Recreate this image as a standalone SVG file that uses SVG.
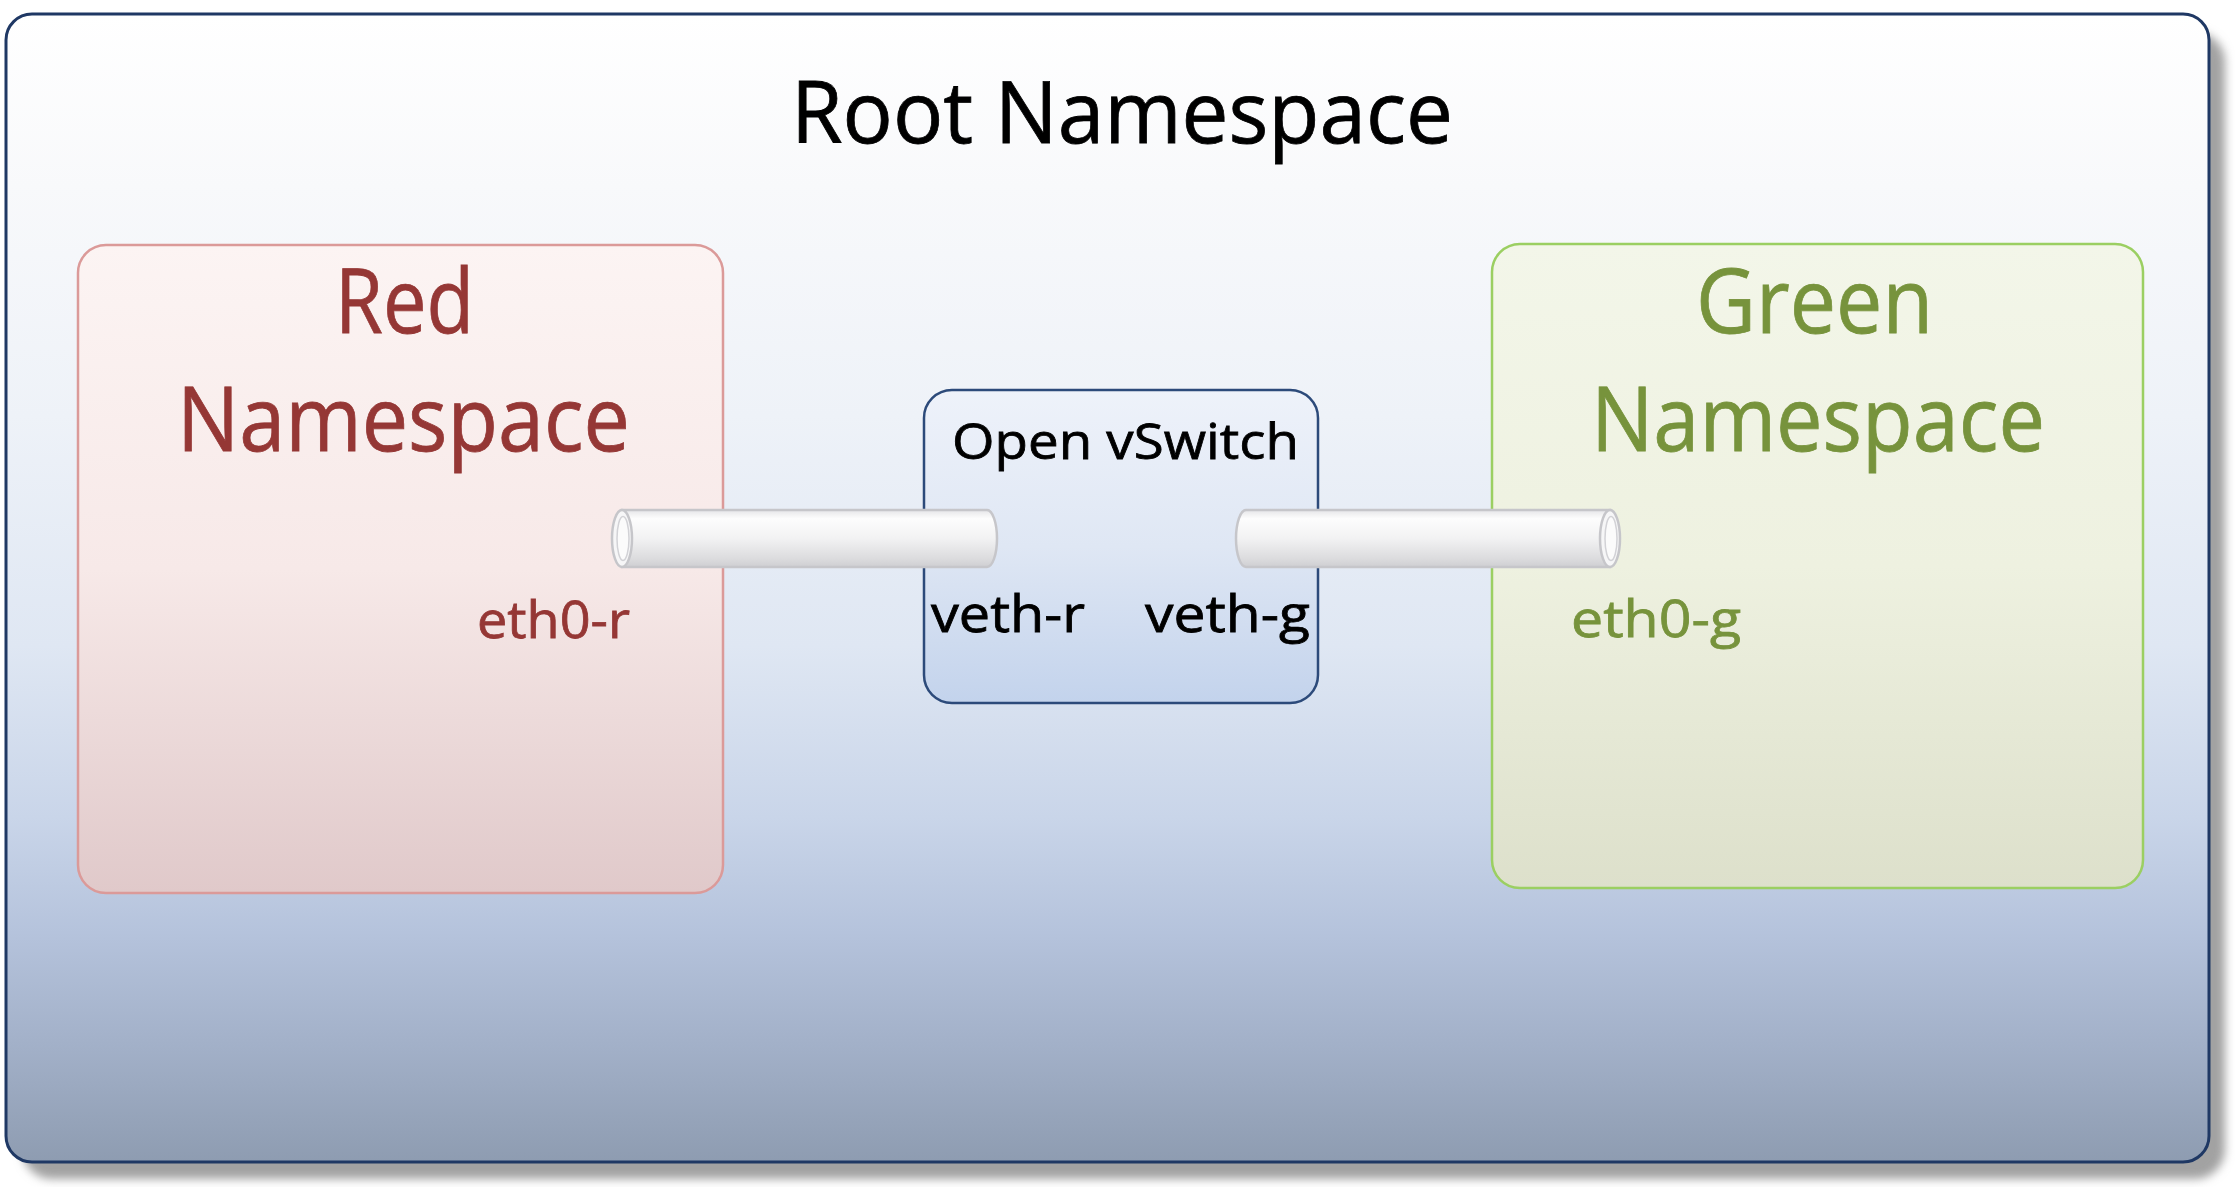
<svg xmlns="http://www.w3.org/2000/svg" width="2235" height="1187" viewBox="0 0 2235 1187">
  <defs>
    <linearGradient id="gRoot" gradientUnits="userSpaceOnUse" x1="0" y1="14" x2="0" y2="1162">
      <stop offset="0" stop-color="#ffffff"/>
      <stop offset="0.15" stop-color="#f8f9fb"/>
      <stop offset="0.35" stop-color="#eef2f8"/>
      <stop offset="0.55" stop-color="#dfe7f3"/>
      <stop offset="0.7" stop-color="#c9d5e9"/>
      <stop offset="0.8" stop-color="#b5c3dc"/>
      <stop offset="0.9" stop-color="#a2b0c8"/>
      <stop offset="1" stop-color="#8e9cb1"/>
    </linearGradient>
    <linearGradient id="gRed" x1="0" y1="0" x2="0" y2="1">
      <stop offset="0" stop-color="#fcf4f3"/>
      <stop offset="0.5" stop-color="#f7e9e8"/>
      <stop offset="1" stop-color="#e0c9ca"/>
    </linearGradient>
    <linearGradient id="gGreen" x1="0" y1="0" x2="0" y2="1">
      <stop offset="0" stop-color="#f3f6e9"/>
      <stop offset="0.5" stop-color="#eef1e0"/>
      <stop offset="1" stop-color="#dde0cb"/>
    </linearGradient>
    <linearGradient id="gOvs" x1="0" y1="0" x2="0" y2="1">
      <stop offset="0" stop-color="#eef2fa"/>
      <stop offset="0.5" stop-color="#dfe7f4"/>
      <stop offset="1" stop-color="#c3d3ec"/>
    </linearGradient>
    <linearGradient id="gPipe" x1="0" y1="0" x2="0" y2="1">
      <stop offset="0" stop-color="#e6e6e8"/>
      <stop offset="0.15" stop-color="#fdfdfd"/>
      <stop offset="0.5" stop-color="#f2f2f3"/>
      <stop offset="0.85" stop-color="#dcdcde"/>
      <stop offset="1" stop-color="#cfcfd2"/>
    </linearGradient>
    <filter id="shadow" x="-5%" y="-5%" width="110%" height="110%">
      <feGaussianBlur stdDeviation="5"/>
    </filter>
  </defs>
  <style>
    text { font-family: "Open Sans", "Noto Sans", "Liberation Sans", sans-serif; stroke-width: 0.8px; }
    .title { font-size: 86px; fill: #000000; stroke: #000000; }
    .red { fill: #953735; stroke: #953735; }
    .green { fill: #77933c; stroke: #77933c; }
    .big { font-size: 90px; }
    .small { font-size: 52px; }
    .ovs { font-size: 50px; fill: #000000; stroke: #000000; }
    .port { font-size: 52px; fill: #000000; stroke: #000000; }
    .pipe { fill: url(#gPipe); stroke: #c6c6ca; stroke-width: 2.5; }
    .pipeEnd { fill: #f6f6f7; stroke: #c6c6ca; stroke-width: 2.5; }
  </style>

  <rect x="0" y="0" width="2235" height="1187" fill="#ffffff"/>

  <g id="root-namespace">
    <rect x="22" y="32" width="2203" height="1147" rx="30" fill="#a2a2a2" filter="url(#shadow)"/>
    <rect x="6" y="14" width="2203" height="1148" rx="26" fill="url(#gRoot)" stroke="#1f3864" stroke-width="3"/>
    <text class="title" x="791" y="143" textLength="662" lengthAdjust="spacingAndGlyphs">Root Namespace</text>
  </g>

  <g id="red-namespace">
    <rect x="78" y="245" width="645" height="648" rx="28" fill="url(#gRed)" stroke="#db9a99" stroke-width="2.5"/>
    <text class="red big" x="335" y="333" textLength="139" lengthAdjust="spacingAndGlyphs">Red</text>
    <text class="red big" x="177" y="451" textLength="453" lengthAdjust="spacingAndGlyphs">Namespace</text>
    <text class="red small" x="477" y="638" textLength="153" lengthAdjust="spacingAndGlyphs">eth0-r</text>
  </g>

  <g id="green-namespace">
    <rect x="1492" y="244" width="651" height="644" rx="28" fill="url(#gGreen)" stroke="#9bcf62" stroke-width="2.5"/>
    <text class="green big" x="1696" y="333" textLength="237" lengthAdjust="spacingAndGlyphs">Green</text>
    <text class="green big" x="1591" y="451" textLength="454" lengthAdjust="spacingAndGlyphs">Namespace</text>
    <text class="green small" x="1571" y="637" textLength="170" lengthAdjust="spacingAndGlyphs">eth0-g</text>
  </g>

  <g id="open-vswitch">
    <rect x="924" y="390" width="394" height="313" rx="28" fill="url(#gOvs)" stroke="#2c4a7a" stroke-width="2.5"/>
    <text class="ovs" x="952" y="459" textLength="347" lengthAdjust="spacingAndGlyphs">Open vSwitch</text>
    <text class="port" x="931" y="632" textLength="154" lengthAdjust="spacingAndGlyphs">veth-r</text>
    <text class="port" x="1145" y="632" textLength="165" lengthAdjust="spacingAndGlyphs">veth-g</text>
  </g>

  <g id="connectors">
    <g id="veth-pair-red">
      <path class="pipe" d="M 622 510 L 987 510 A 10 28.5 0 0 1 987 567 L 622 567 Z"/>
      <ellipse class="pipeEnd" cx="622" cy="538.5" rx="10" ry="28.5"/>
      <ellipse cx="623" cy="538.5" rx="6" ry="22" fill="#fbfbfb" stroke="#d2d2d6" stroke-width="1.5"/>
    </g>
    <g id="veth-pair-green">
      <path class="pipe" d="M 1610 510 L 1246 510 A 10 28.5 0 0 0 1246 567 L 1610 567 Z"/>
      <ellipse class="pipeEnd" cx="1610" cy="538.5" rx="10" ry="28.5"/>
      <ellipse cx="1611" cy="538.5" rx="6" ry="22" fill="#fbfbfb" stroke="#d2d2d6" stroke-width="1.5"/>
    </g>
  </g>
</svg>
